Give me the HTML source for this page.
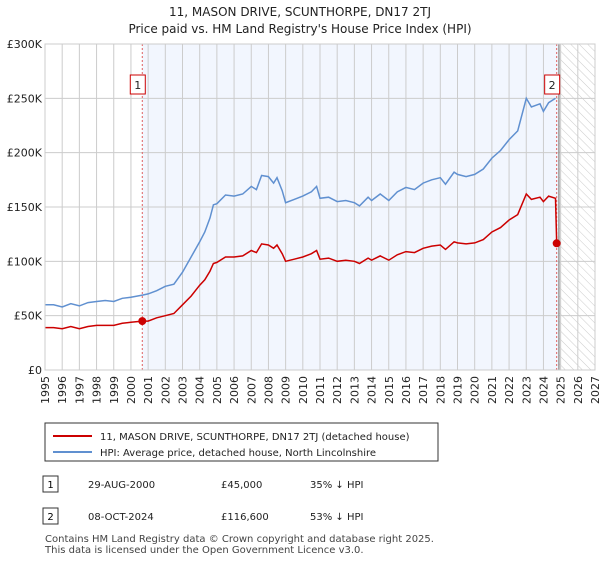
<!DOCTYPE html>
<html><head><meta charset="utf-8"><style>
body{margin:0;background:#fff;font-family:"Liberation Sans","DejaVu Sans",sans-serif;}
svg text{font-family:"DejaVu Sans","Liberation Sans",sans-serif;}
</style></head><body>
<svg id="c" width="600" height="560" xmlns="http://www.w3.org/2000/svg">
<defs><pattern id="hatch" width="6" height="6" patternUnits="userSpaceOnUse" patternTransform="rotate(-45)"><line x1="0" y1="0" x2="0" y2="6" stroke="#ccc" stroke-width="1"/></pattern></defs>
<text x="300" y="16" text-anchor="middle" font-size="12" fill="#222">11, MASON DRIVE, SCUNTHORPE, DN17 2TJ</text>
<text x="300" y="33" text-anchor="middle" font-size="12" fill="#222">Price paid vs. HM Land Registry's House Price Index (HPI)</text>
<g id="plot"></g>
<rect x="45" y="423" width="393" height="38" fill="#fff" stroke="#333"/>
<line x1="53" y1="436" x2="92" y2="436" stroke="#cc0000" stroke-width="2"/>
<text x="100" y="440" font-size="10" fill="#222">11, MASON DRIVE, SCUNTHORPE, DN17 2TJ (detached house)</text>
<line x1="53" y1="452" x2="92" y2="452" stroke="#6090d0" stroke-width="2"/>
<text x="100" y="456" font-size="10" fill="#222">HPI: Average price, detached house, North Lincolnshire</text>
<rect x="43" y="476" width="15" height="16" fill="#fff" stroke="#333"/>
<text x="50.5" y="488" text-anchor="middle" font-size="10">1</text>
<text x="88" y="488" font-size="10" fill="#222">29-AUG-2000</text>
<text x="221" y="488" font-size="10" fill="#222">£45,000</text>
<text x="310" y="488" font-size="10" fill="#222">35% ↓ HPI</text>
<rect x="43" y="508" width="15" height="16" fill="#fff" stroke="#333"/>
<text x="50.5" y="520" text-anchor="middle" font-size="10">2</text>
<text x="88" y="520" font-size="10" fill="#222">08-OCT-2024</text>
<text x="221" y="520" font-size="10" fill="#222">£116,600</text>
<text x="310" y="520" font-size="10" fill="#222">53% ↓ HPI</text>
<text x="45" y="542" font-size="10" fill="#444">Contains HM Land Registry data © Crown copyright and database right 2025.</text>
<text x="45" y="553" font-size="10" fill="#444">This data is licensed under the Open Government Licence v3.0.</text>
</svg>
<script>
const hpiYears=[1995,1995.5,1996,1996.5,1997,1997.5,1998,1998.5,1999,1999.5,2000,2000.7,2001,2001.5,2002,2002.5,2003,2003.5,2004,2004.3,2004.6,2004.8,2005,2005.5,2006,2006.5,2007,2007.3,2007.6,2008,2008.3,2008.5,2008.8,2009,2009.5,2010,2010.5,2010.8,2011,2011.5,2012,2012.5,2013,2013.3,2013.8,2014,2014.5,2015,2015.5,2016,2016.5,2017,2017.5,2018,2018.3,2018.8,2019,2019.5,2020,2020.5,2021,2021.5,2022,2022.5,2023,2023.3,2023.8,2024,2024.3,2024.7];
const hpiValues=[60,60,58,61,59,62,63,64,63,66,67,69,70,73,77,79,90,104,118,127,140,152,153,161,160,162,169,166,179,178,172,177,165,154,157,160,164,169,158,159,155,156,154,151,159,156,162,156,164,168,166,172,175,177,171,182,180,178,180,185,195,202,212,220,250,242,245,238,246,250];
const ppYears=[1995,1995.5,1996,1996.5,1997,1997.5,1998,1998.5,1999,1999.5,2000,2000.66,2001,2001.5,2002,2002.5,2003,2003.5,2004,2004.3,2004.6,2004.8,2005,2005.5,2006,2006.5,2007,2007.3,2007.6,2008,2008.3,2008.5,2008.8,2009,2009.5,2010,2010.5,2010.8,2011,2011.5,2012,2012.5,2013,2013.3,2013.8,2014,2014.5,2015,2015.5,2016,2016.5,2017,2017.5,2018,2018.3,2018.8,2019,2019.5,2020,2020.5,2021,2021.5,2022,2022.5,2023,2023.3,2023.8,2024,2024.3,2024.7,2024.77];
const ppValues=[39,39,38,40,38,40,41,41,41,43,44,45,45,48,50,52,60,68,78,83,91,98,99,104,104,105,110,108,116,115,112,115,107,100,102,104,107,110,102,103,100,101,100,98,103,101,105,101,106,109,108,112,114,115,111,118,117,116,117,120,127,131,138,143,162,157,159,155,160,158,116.6];
const sales=[{id:'1',year:2000.66,value:45},{id:'2',year:2024.77,value:116.6}];
const yTicks=[0,50,100,150,200,250,300];
const yTickLabels=['£0','£50K','£100K','£150K','£200K','£250K','£300K'];
const xTicks=[1995,1996,1997,1998,1999,2000,2001,2002,2003,2004,2005,2006,2007,2008,2009,2010,2011,2012,2013,2014,2015,2016,2017,2018,2019,2020,2021,2022,2023,2024,2025,2026,2027];
const L=45,R=595,T=44,B=370,x0=1995,x1=2027,yMax=300,dataEnd=2024.9;
const X=v=>L+(v-x0)/(x1-x0)*(R-L);
const Y=v=>B-v/yMax*(B-T);
const NS='http://www.w3.org/2000/svg';
const g=document.getElementById('plot');
function el(t,a,p){const e=document.createElementNS(NS,t);for(const k in a)e.setAttribute(k,a[k]);(p||g).appendChild(e);return e;}
let r=el('rect',{x:X(sales[0].year),y:T,width:X(dataEnd)-X(sales[0].year),height:B-T,fill:'#f2f6fe'});


r=el('rect',{x:X(dataEnd),y:T,width:R-X(dataEnd),height:B-T,fill:'url(#hatch)'});


xTicks.forEach(v=>{const l=el('line',{x1:X(v),x2:X(v),y1:T,y2:B,stroke:'#ccc'});


const t=el('text',{x:0,y:0,'font-size':11,fill:'#222','text-anchor':'end',transform:`translate(${X(v)+4},${B+6}) rotate(-90)`});
t.textContent=v;

});
yTicks.forEach((v,i)=>{const l=el('line',{x1:L,x2:R,y1:Y(v),y2:Y(v),stroke:'#ccc'});


const t=el('text',{x:L-3,y:Y(v)+4,'font-size':11,fill:'#222','text-anchor':'end'});
t.textContent=yTickLabels[i];

});
let dl=el('line',{x1:X(dataEnd),x2:X(dataEnd),y1:T,y2:B,stroke:'#999','stroke-width':1.5});


sales.forEach(s=>{const l=el('line',{x1:X(s.year),x2:X(s.year),y1:T,y2:B,stroke:'#e06060','stroke-dasharray':'2,2'});

});
function path(xs,ys,col,name){const p=el('path',{d:xs.map((v,i)=>(i?'L':'M')+X(v).toFixed(1)+','+Y(ys[i]).toFixed(1)).join(''),fill:'none',stroke:col,'stroke-width':1.5});

}
path(hpiYears,hpiValues,'#6090d0','hpi-line');
path(ppYears,ppValues,'#cc0000','price-paid-line');
sales.forEach(s=>{const c=el('circle',{cx:X(s.year),cy:Y(s.value),r:4,fill:'#cc0000'});


const bx=X(s.year)-12;
const b=el('rect',{x:bx,y:75,width:15,height:19,fill:'#fff',stroke:'#cc0000'});


const t=el('text',{x:bx+7.5,y:89,'font-size':11,'text-anchor':'middle',fill:'#222'});
t.textContent=s.id;

});
const f=el('rect',{x:L,y:T,width:R-L,height:B-T,fill:'none',stroke:'#ccc'});


</script>
</body></html>
